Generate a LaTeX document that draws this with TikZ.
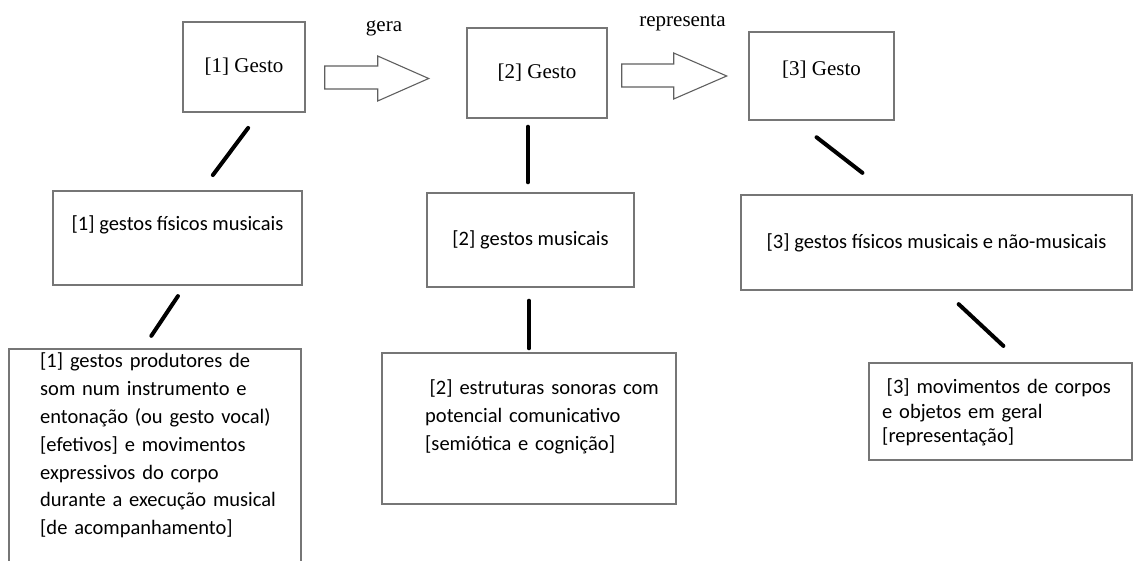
\documentclass[tikz,border=0pt]{standalone}
\usepackage{fontspec}
\setmainfont{Liberation Serif}
\newfontfamily\calibri{Carlito}
\definecolor{boxgray}{RGB}{118,118,118}
\definecolor{arrgray}{RGB}{95,95,95}
\usetikzlibrary{calc}

\begin{document}
\begin{tikzpicture}[x=1pt, y=-1pt,
  bx/.style={draw=boxgray, line width=1.4pt, inner sep=0pt},
  gbx/.style={bx, font=\fontsize{21}{25}\selectfont},
  pbx/.style={bx, font=\calibri\fontsize{20.5}{27.8}\selectfont},
  txt/.style={inner sep=0pt, align=left, text width=280pt, anchor=base west, font=\calibri\fontsize{20.5}{27.8}\selectfont},
  lbl/.style={inner sep=0pt, anchor=base, font=\fontsize{21}{25}\selectfont},
  link/.style={line width=4pt, line cap=round},
  blk/.style={draw=arrgray, line width=1.1pt, line join=miter}]
\useasboundingbox (0,0) rectangle (1133,561);
% Gesto boxes
\node[gbx, minimum width=122pt, minimum height=90pt] (g1) at (244,67) {[1] Gesto};
\node[gbx, minimum width=140pt, minimum height=90pt] (g2) at (537,73) {[2] Gesto};
\node[gbx, minimum width=145pt, minimum height=88pt, text depth=16pt] (g3) at (821.5,76) {[3] Gesto};
% Block arrows
\draw[blk] ($(g1.east)+(19,-1)$) -- ++(53,0) -- ++(0,-10) -- ++(51,22.5) -- ++(-51,22.5) -- ++(0,-12) -- ++(-53,0) -- cycle;
\draw[blk] ($(g2.east)+(14,-9)$) -- ++(52,0) -- ++(0,-11) -- ++(53,23) -- ++(-53,23) -- ++(0,-12) -- ++(-52,0) -- cycle;
\node[lbl] (gera) at (384,32) {gera};
\node[lbl] (repr) at (682.5,27) {representa};
% Middle row
\node[pbx, minimum width=249pt, minimum height=94pt, text depth=30pt] (p1) at (177.5,238) {[1] gestos físicos musicais};
\node[pbx, minimum width=207pt, minimum height=94pt] (p2) at (530.5,240) {[2] gestos musicais};
\node[pbx, minimum width=391pt, minimum height=95pt] (p3) at (936.5,242.5) {[3] gestos físicos musicais e não-musicais};
% Bottom row
\node[bx, minimum width=292pt, minimum height=232pt] (l1) at (155,465) {};
\node[bx, minimum width=294pt, minimum height=151pt] (l2) at (529,428.5) {};
\node[bx, minimum width=263pt, minimum height=97pt] (l3) at (1000.5,411.5) {};
\node[txt] (l1txt) at (40,368) {[1] gestos produtores de\\som num instrumento e\\entonação (ou gesto vocal)\\{}[efetivos] e movimentos\\expressivos do corpo\\durante a execução musical\\{}[de acompanhamento]};
\node[txt] (l2txt) at (425,395) {\hspace*{4.5pt}[2] estruturas sonoras com\\potencial comunicativo\\{}[semiótica e cognição]};
\node[txt, font=\calibri\fontsize{20.5}{25}\selectfont] (l3txt) at (882,393) {\hspace*{4.5pt}[3] movimentos de corpos\\e objetos em geral\\{}[representação]};
% Links
\draw[link, shorten <=19pt, shorten >=19pt] ([xshift=15.5pt]g1.south) -- ([xshift=24pt]p1.north);
\draw[link, shorten <=12.5pt, shorten >=15pt] ([xshift=7.4pt]p1.south) -- ([xshift=-12pt]l1.north);
\draw[link, shorten <=8pt, shorten >=10pt] ([xshift=-9pt]g2.south) -- ([xshift=-2.5pt]p2.north);
\draw[link, shorten <=13pt, shorten >=4pt] ([xshift=-1.5pt]p2.south) -- (l2.north);
\draw[link, shorten <=27pt, shorten >=35pt] ([xshift=-26.3pt]g3.south) -- ([xshift=-46.4pt]p3.north);
\draw[link, shorten <=19.7pt, shorten >=24pt] ([xshift=7.75pt]p3.south) -- ([xshift=20.4pt]l3.north);
\end{tikzpicture}
\end{document}
